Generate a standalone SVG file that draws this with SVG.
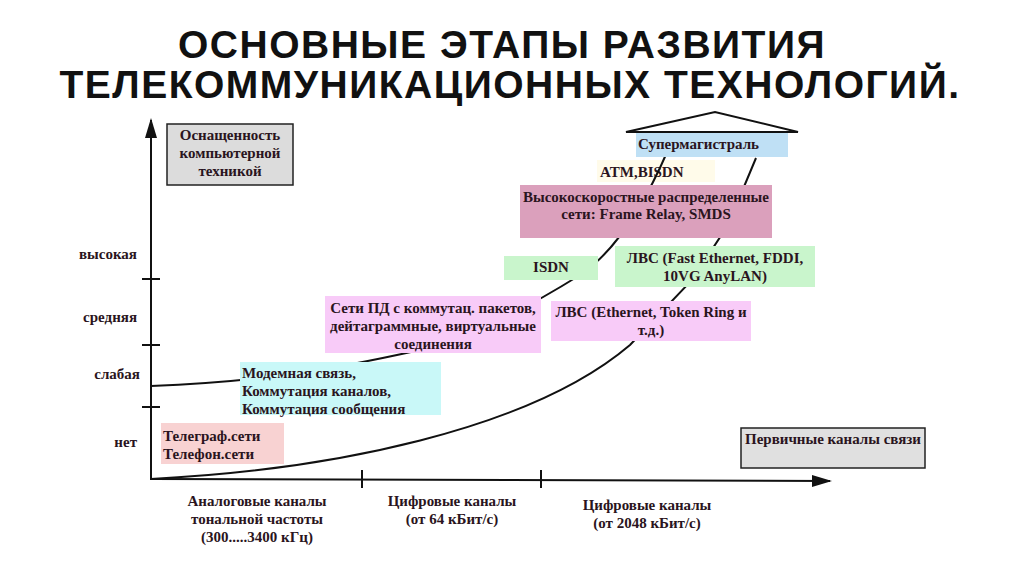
<svg xmlns="http://www.w3.org/2000/svg" width="1024" height="576" viewBox="0 0 1024 576">
<style>
.t{font-family:"Liberation Serif",serif;font-weight:bold;font-size:15px;fill:#2a1420}
.c{text-anchor:middle}
.r{text-anchor:end}
.h{font-family:"Liberation Sans","DejaVu Sans",sans-serif;font-weight:bold;font-size:39px;fill:#111;text-anchor:middle;letter-spacing:1.5px}
.ln{fill:none;stroke:#111;stroke-width:2}
</style>
<defs><marker id="a" markerWidth="10" markerHeight="8" refX="9" refY="4" orient="auto"><path d="M0,1 L10,4 L0,7 Z" fill="#111"/></marker></defs>
<rect width="1024" height="576" fill="#fff"/>
<text class="h" x="502" y="58">ОСНОВНЫЕ  ЭТАПЫ  РАЗВИТИЯ</text>
<text class="h" x="510" y="98">ТЕЛЕКОММУНИКАЦИОННЫХ ТЕХНОЛОГИЙ.</text>
<g id="n-atm"><rect x="597" y="160" width="118" height="22" fill="#fffbea"/><text class="t" x="600" y="177">ATM,BISDN</text></g>
<g id="connectors">
<line class="ln" x1="151" y1="480" x2="151" y2="120" marker-end="url(#a)"/>
<line class="ln" x1="151" y1="479" x2="830" y2="481" marker-end="url(#a)"/>
<path class="ln" d="M142,279H160M142,345H160M142,407H160M362,470V488M541,470V488"/>
<path class="ln" d="M151,386 C260,382 330,370 420,350 C480,335 540,300 580,275 C610,255 640,215 668,150"/>
<path class="ln" d="M151,479 C330,470 530,430 630,345 L692,280 L728,225 L756,158"/>
<path class="ln" d="M626,132 L715,112 L798,132 Z"/>
</g>
<g id="n-osn"><rect x="167" y="124" width="126" height="61" fill="#dcdcdc" stroke="#222" stroke-width="1.5"/><text class="t c" x="230" y="140">Оснащенность</text><text class="t c" x="230" y="158">компьютерной</text><text class="t c" x="230" y="176">техникой</text></g>
<g id="n-super"><rect x="636" y="133" width="152" height="24" fill="#bfe0f5"/><text class="t" x="638" y="149">Супермагистраль</text></g>
<g id="n-fr"><rect x="520" y="185" width="252" height="53" fill="#dba0bc"/><text class="t c" x="646" y="202">Высокоскоростные распределенные</text><text class="t c" x="646" y="219">сети: Frame Relay, SMDS</text></g>
<g id="n-isdn"><rect x="504" y="256" width="94" height="24" fill="#c9f5cc"/><text class="t c" x="551" y="272">ISDN</text></g>
<g id="n-fast"><rect x="615" y="246" width="200" height="41" fill="#c9f5cc"/><text class="t c" x="715" y="263">ЛВС (Fast Ethernet, FDDI,</text><text class="t c" x="715" y="281">10VG AnyLAN)</text></g>
<g id="n-pd"><rect x="325" y="296" width="216" height="57" fill="#f8cbf8"/><text class="t c" x="433" y="313">Сети ПД с коммутац. пакетов,</text><text class="t c" x="433" y="331">дейтаграммные, виртуальные</text><text class="t c" x="433" y="349">соединения</text></g>
<g id="n-eth"><rect x="551" y="301" width="200" height="40" fill="#f8cbf8"/><text class="t c" x="651" y="317">ЛВС (Ethernet, Token Ring и</text><text class="t c" x="651" y="335">т.д.)</text></g>
<g id="n-modem"><rect x="240" y="362" width="201" height="53" fill="#c9f8f8"/><text class="t" x="242" y="378">Модемная связь,</text><text class="t" x="242" y="396">Коммутация каналов,</text><text class="t" x="242" y="414">Коммутация сообщения</text></g>
<g id="n-tel"><rect x="161" y="423" width="123" height="41" fill="#f8d2d2"/><text class="t" x="163" y="441">Телеграф.сети</text><text class="t" x="163" y="459">Телефон.сети</text></g>
<g id="n-perv"><rect x="741" y="428" width="184" height="40" fill="#e0e0e0" stroke="#222" stroke-width="1.5"/><text class="t c" x="833" y="444">Первичные каналы связи</text></g>
<g id="labels">
<text class="t r" x="137" y="259">высокая</text><text class="t r" x="137" y="322">средняя</text><text class="t r" x="140" y="379">слабая</text><text class="t r" x="137" y="447">нет</text>
<text class="t c" x="257" y="506">Аналоговые каналы</text><text class="t c" x="257" y="524">тональной частоты</text><text class="t c" x="257" y="542">(300.....3400 кГц)</text>
<text class="t c" x="452" y="506">Цифровые каналы</text><text class="t c" x="452" y="524">(от 64 кБит/с)</text>
<text class="t c" x="647" y="510">Цифровые каналы</text><text class="t c" x="647" y="528">(от 2048 кБит/с)</text>
</g>
</svg>
